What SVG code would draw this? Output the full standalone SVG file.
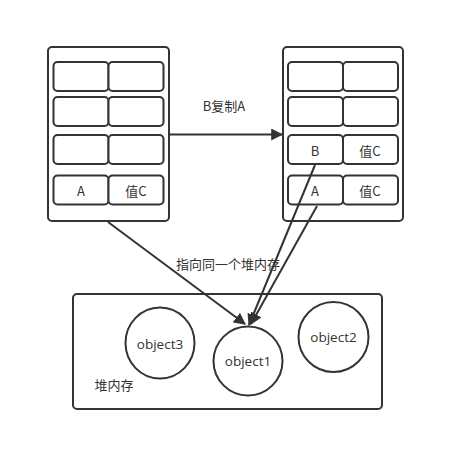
<svg xmlns="http://www.w3.org/2000/svg" width="465" height="471" viewBox="0 0 465 471">
<style>
.box{fill:#fff;stroke:#333;stroke-width:2}
.cell{fill:#fff;stroke:#333;stroke-width:2}
.c{fill:#fff;stroke:#333;stroke-width:2}
.ln{fill:none;stroke:#333;stroke-width:2}
text{font-family:"Noto Sans CJK SC","Noto Sans",sans-serif;font-size:13px;fill:#333;text-anchor:middle;dominant-baseline:central}
.obj{font-family:"Open Sans","Noto Sans",sans-serif;font-size:13.5px}
</style>
<defs>
<marker id="ah" viewBox="0 0 10 10" refX="9" refY="5" markerWidth="6" markerHeight="6" orient="auto" markerUnits="strokeWidth">
<path d="M0,0 L10,5 L0,10 z" fill="#333"/>
</marker>
</defs>
<rect width="465" height="471" fill="#fff"/>
<g id="stackA">
<rect class="box" x="48" y="47" width="121" height="174" rx="4"/>
<rect class="cell" x="53.5" y="62" width="55" height="29" rx="4"/>
<rect class="cell" x="108.5" y="62" width="55" height="29" rx="4"/>
<rect class="cell" x="53.5" y="97" width="55" height="29" rx="4"/>
<rect class="cell" x="108.5" y="97" width="55" height="29" rx="4"/>
<rect class="cell" x="53.5" y="135" width="55" height="29" rx="4"/>
<rect class="cell" x="108.5" y="135" width="55" height="29" rx="4"/>
<rect class="cell" x="53.5" y="175.5" width="55" height="29" rx="4"/>
<rect class="cell" x="108.5" y="175.5" width="55" height="29" rx="4"/>
<text x="81" y="190">A</text>
<text x="136" y="190">值C</text>
</g>
<g id="stackB">
<rect class="box" x="283" y="47" width="120" height="174" rx="4"/>
<rect class="cell" x="288" y="62" width="55" height="29" rx="4"/>
<rect class="cell" x="343" y="62" width="55" height="29" rx="4"/>
<rect class="cell" x="288" y="97" width="55" height="29" rx="4"/>
<rect class="cell" x="343" y="97" width="55" height="29" rx="4"/>
<rect class="cell" x="288" y="135" width="55" height="29" rx="4"/>
<rect class="cell" x="343" y="135" width="55" height="29" rx="4"/>
<rect class="cell" x="288" y="175.5" width="55" height="29" rx="4"/>
<rect class="cell" x="343" y="175.5" width="55" height="29" rx="4"/>
<text x="315" y="150">B</text>
<text x="370" y="150">值C</text>
<text x="315" y="190">A</text>
<text x="370" y="190">值C</text>
</g>
<g id="heap">
<rect class="box" x="73" y="294" width="309" height="115" rx="4"/>
<text x="114" y="384">堆内存</text>
</g>
<g id="object3">
<ellipse class="c" cx="160" cy="343" rx="34.5" ry="35.5"/>
<text class="obj" x="160" y="344">object3</text>
</g>
<g id="object1">
<ellipse class="c" cx="248" cy="361" rx="34.5" ry="34.5"/>
<text class="obj" x="248" y="361">object1</text>
</g>
<g id="object2">
<ellipse class="c" cx="333.5" cy="337" rx="35" ry="35"/>
<text class="obj" x="333.5" y="337">object2</text>
</g>
<g id="connectors">
<line class="ln" x1="169" y1="134.5" x2="282" y2="134.5" marker-end="url(#ah)"/>
<line class="ln" x1="108" y1="222" x2="245" y2="324" marker-end="url(#ah)"/>
<line class="ln" x1="315" y1="165" x2="249" y2="325" marker-end="url(#ah)"/>
<line class="ln" x1="317" y1="206" x2="251" y2="324" marker-end="url(#ah)"/>
<text x="224" y="105">B复制A</text>
<text x="228" y="263">指向同一个堆内存</text>
</g>
</svg>
